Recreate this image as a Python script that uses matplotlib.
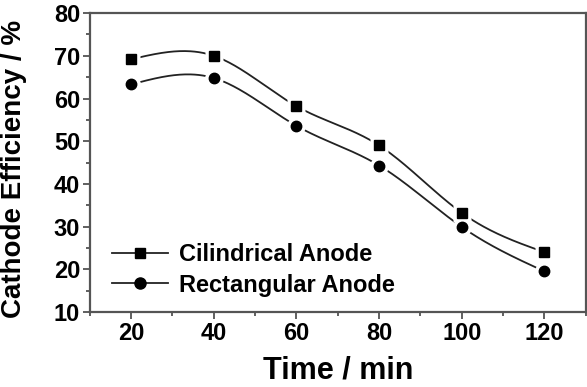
import matplotlib.pyplot as plt
import numpy as np
from matplotlib.ticker import MultipleLocator

# data
time_min = [20, 40, 60, 80, 100, 120]
cilindrical = [69.2, 70.0, 58.2, 49.0, 33.2, 24.0]
rectangular = [63.3, 64.8, 53.6, 44.3, 29.9, 19.5]
series_labels = ['Cilindrical Anode', 'Rectangular Anode']


def natural_spline(x, y, n=300):
    """Natural cubic spline through (x, y), for drawing smooth lines."""
    x = np.asarray(x, float)
    y = np.asarray(y, float)
    k = len(x)
    h = np.diff(x)
    A = np.zeros((k, k))
    r = np.zeros(k)
    A[0, 0] = A[-1, -1] = 1
    for i in range(1, k - 1):
        A[i, i - 1] = h[i - 1]
        A[i, i] = 2 * (h[i - 1] + h[i])
        A[i, i + 1] = h[i]
        r[i] = 6 * ((y[i + 1] - y[i]) / h[i] - (y[i] - y[i - 1]) / h[i - 1])
    m = np.linalg.solve(A, r)
    xs = np.linspace(x[0], x[-1], n)
    idx = np.clip(np.searchsorted(x, xs) - 1, 0, k - 2)
    x0, x1 = x[idx], x[idx + 1]
    hh = x1 - x0
    a = (x1 - xs) / hh
    b = (xs - x0) / hh
    ys = (a * y[idx] + b * y[idx + 1]
          + ((a ** 3 - a) * m[idx] + (b ** 3 - b) * m[idx + 1]) * hh ** 2 / 6)
    return xs, ys


plt.rcParams['font.family'] = ['Liberation Sans', 'DejaVu Sans']
plt.rcParams['font.weight'] = 'bold'

fig = plt.figure(figsize=(5.87, 3.87), dpi=100)
ax = fig.add_axes([0.153, 0.194, 0.845, 0.772])

lc = '#222222'
for ys, mk, ms, lab in [(cilindrical, 's', 7, series_labels[0]),
                        (rectangular, 'o', 7.5, series_labels[1])]:
    sx, sy = natural_spline(time_min, ys)
    ax.plot(sx, sy, color=lc, lw=1.3, zorder=2)
    # white halo to break the line near the symbols
    ax.plot(time_min, ys, ls='none', marker=mk, ms=ms + 6, mfc='white',
            mec='none', zorder=3)
    ax.plot(time_min, ys, ls='none', marker=mk, ms=ms, color='black',
            zorder=4)
    ax.plot([], [], color=lc, lw=1.3, marker=mk, ms=ms + 0.5, mfc='black',
            mec='black', label=lab)

ax.set_xlim(10, 130)
ax.set_ylim(10, 80)
ax.xaxis.set_major_locator(MultipleLocator(20))
ax.xaxis.set_minor_locator(MultipleLocator(10))
ax.yaxis.set_major_locator(MultipleLocator(10))
ax.yaxis.set_minor_locator(MultipleLocator(5))
ax.set_xticks([20, 40, 60, 80, 100, 120])

ax.tick_params(which='both', direction='out', top=False, right=False,
               labelsize=17, width=1.2, color='#444444')
ax.tick_params(which='major', length=5, pad=2)
ax.tick_params(which='minor', length=3)
for s in ax.spines.values():
    s.set_linewidth(1.6)
    s.set_color('#555555')

ax.set_xlabel('Time / min', fontsize=22, fontweight='bold')
ax.set_ylabel('Cathode Efficiency / %', fontsize=20, fontweight='bold')
ax.xaxis.set_label_coords(0.5, -0.195, transform=ax.transAxes)
ax.yaxis.set_label_coords(-0.152, 0.48, transform=ax.transAxes)
ax.xaxis.label.set_va('center')
ax.yaxis.label.set_va('center')

leg = ax.legend(loc='lower left', bbox_to_anchor=(0.025, 0.02), frameon=False,
                fontsize=17, handlelength=2.4, handletextpad=0.45,
                labelspacing=0.3, borderaxespad=0)

fig.savefig('out.png', dpi=100)
